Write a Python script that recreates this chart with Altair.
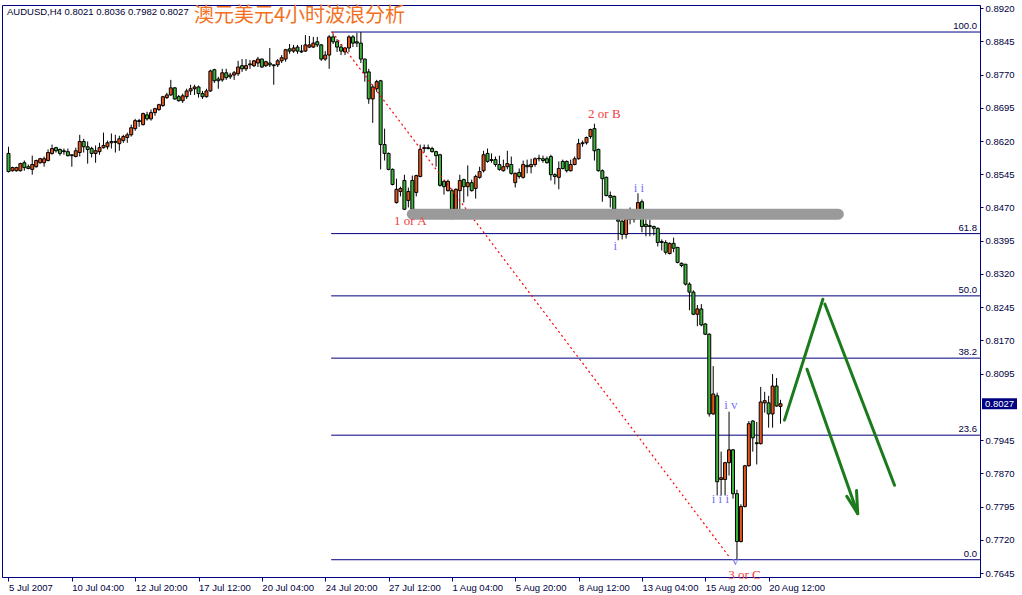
import altair as alt
import pandas as pd

# ---- AUDUSD H4 candles (bar 0 = 5 Jul 2007 12:00, weekends skipped) ----
opens = [
    0.8592, 0.8553, 0.8553, 0.8553, 0.8571, 0.8562, 0.8556, 0.8562, 0.8571, 0.8571,
    0.8576, 0.8592, 0.8605, 0.8601, 0.8598, 0.8596, 0.8589, 0.8585, 0.8594, 0.8619,
    0.8607, 0.8603, 0.8592, 0.8596, 0.8605, 0.8607, 0.8616, 0.8619, 0.8614, 0.8621,
    0.8628, 0.8634, 0.8648, 0.8664, 0.8657, 0.8679, 0.8670, 0.8684, 0.8691, 0.8700,
    0.8718, 0.8724, 0.8740, 0.8720, 0.8711, 0.8720, 0.8733, 0.8738, 0.8742, 0.8727,
    0.8720, 0.8733, 0.8781, 0.8760, 0.8758, 0.8774, 0.8765, 0.8769, 0.8772, 0.8790,
    0.8783, 0.8792, 0.8790, 0.8796, 0.8805, 0.8790, 0.8796, 0.8792, 0.8792, 0.8801,
    0.8805, 0.8828, 0.8823, 0.8832, 0.8823, 0.8823, 0.8832, 0.8832, 0.8844, 0.8837,
    0.8805, 0.8814, 0.8855, 0.8844, 0.8832, 0.8821, 0.8830, 0.8855, 0.8844, 0.8841,
    0.8805, 0.8776, 0.8715, 0.8738, 0.8756, 0.8612, 0.8592, 0.8556, 0.8481, 0.8506,
    0.8531, 0.8486, 0.8531, 0.8504, 0.8540, 0.8603, 0.8605, 0.8603, 0.8596, 0.8589,
    0.8529, 0.8508, 0.8508, 0.8466, 0.8508, 0.8533, 0.8517, 0.8526, 0.8513, 0.8538,
    0.8553, 0.8592, 0.8578, 0.8578, 0.8567, 0.8553, 0.8562, 0.8567, 0.8526, 0.8549,
    0.8538, 0.8565, 0.8562, 0.8567, 0.8580, 0.8580, 0.8580, 0.8585, 0.8544, 0.8538,
    0.8574, 0.8574, 0.8553, 0.8567, 0.8580, 0.8614, 0.8616, 0.8630, 0.8648, 0.8601,
    0.8553, 0.8538, 0.8497, 0.8495, 0.8443, 0.8439, 0.8409, 0.8445, 0.8443, 0.8445,
    0.8483, 0.8432, 0.8429, 0.8427, 0.8423, 0.8393, 0.8391, 0.8366, 0.8389, 0.8380,
    0.8344, 0.8342, 0.8297, 0.8279, 0.8229, 0.8241, 0.8207, 0.8184, 0.8004, 0.8045,
    0.7856, 0.7856, 0.7894, 0.7923, 0.7824, 0.7716, 0.7795, 0.7887, 0.7988, 0.7937,
    0.7937, 0.8029, 0.8029, 0.8004, 0.8067, 0.8021,
]
highs = [
    0.8607, 0.8562, 0.8562, 0.8571, 0.8576, 0.8567, 0.8587, 0.8578, 0.8582, 0.8585,
    0.8601, 0.8612, 0.8607, 0.8603, 0.8603, 0.8603, 0.8589, 0.8605, 0.8634, 0.8625,
    0.8619, 0.8607, 0.8610, 0.8616, 0.8639, 0.8621, 0.8637, 0.8634, 0.8632, 0.8634,
    0.8639, 0.8657, 0.8670, 0.8670, 0.8684, 0.8686, 0.8691, 0.8695, 0.8704, 0.8722,
    0.8729, 0.8758, 0.8742, 0.8724, 0.8727, 0.8738, 0.8747, 0.8747, 0.8745, 0.8733,
    0.8738, 0.8781, 0.8783, 0.8765, 0.8783, 0.8783, 0.8774, 0.8778, 0.8801, 0.8805,
    0.8805, 0.8803, 0.8803, 0.8810, 0.8806, 0.8801, 0.8830, 0.8792, 0.8805, 0.8814,
    0.8828, 0.8839, 0.8837, 0.8837, 0.8837, 0.8859, 0.8857, 0.8855, 0.8855, 0.8839,
    0.8823, 0.8859, 0.8862, 0.8850, 0.8839, 0.8832, 0.8859, 0.8859, 0.8864, 0.8866,
    0.8806, 0.8783, 0.8747, 0.8758, 0.8758, 0.8648, 0.8594, 0.8558, 0.8535, 0.8517,
    0.8544, 0.8515, 0.8542, 0.8544, 0.8612, 0.8612, 0.8612, 0.8607, 0.8598, 0.8591,
    0.8531, 0.8533, 0.8513, 0.8513, 0.8544, 0.8535, 0.8565, 0.8533, 0.8544, 0.8562,
    0.8598, 0.8603, 0.8592, 0.8585, 0.8587, 0.8578, 0.8598, 0.8585, 0.8549, 0.8558,
    0.8576, 0.8578, 0.8580, 0.8583, 0.8589, 0.8587, 0.8585, 0.8589, 0.8547, 0.8574,
    0.8578, 0.8576, 0.8578, 0.8585, 0.8625, 0.8621, 0.8630, 0.8648, 0.8659, 0.8603,
    0.8556, 0.8540, 0.8506, 0.8497, 0.8459, 0.8443, 0.8450, 0.8470, 0.8459, 0.8502,
    0.8488, 0.8443, 0.8443, 0.8429, 0.8425, 0.8398, 0.8396, 0.8391, 0.8402, 0.8380,
    0.8346, 0.8342, 0.8301, 0.8283, 0.8250, 0.8252, 0.8209, 0.8186, 0.8112, 0.8052,
    0.7919, 0.7896, 0.8009, 0.7925, 0.7833, 0.7800, 0.7889, 0.7988, 0.7990, 0.7986,
    0.8065, 0.8054, 0.8045, 0.8094, 0.8085, 0.8036,
]
lows = [
    0.8549, 0.8551, 0.8551, 0.8551, 0.8553, 0.8556, 0.8544, 0.8560, 0.8569, 0.8562,
    0.8574, 0.8589, 0.8594, 0.8587, 0.8589, 0.8585, 0.8562, 0.8583, 0.8585, 0.8594,
    0.8569, 0.8583, 0.8571, 0.8589, 0.8603, 0.8601, 0.8603, 0.8594, 0.8598, 0.8616,
    0.8616, 0.8630, 0.8643, 0.8652, 0.8655, 0.8666, 0.8666, 0.8677, 0.8688, 0.8697,
    0.8715, 0.8722, 0.8713, 0.8709, 0.8706, 0.8715, 0.8724, 0.8724, 0.8718, 0.8715,
    0.8718, 0.8731, 0.8751, 0.8738, 0.8754, 0.8758, 0.8760, 0.8758, 0.8767, 0.8776,
    0.8778, 0.8783, 0.8787, 0.8787, 0.8785, 0.8787, 0.8787, 0.8747, 0.8787, 0.8796,
    0.8799, 0.8817, 0.8819, 0.8817, 0.8819, 0.8821, 0.8830, 0.8830, 0.8832, 0.8801,
    0.8801, 0.8783, 0.8839, 0.8821, 0.8814, 0.8814, 0.8821, 0.8832, 0.8832, 0.8796,
    0.8754, 0.8704, 0.8661, 0.8731, 0.8556, 0.8576, 0.8554, 0.8520, 0.8479, 0.8495,
    0.8464, 0.8470, 0.8463, 0.8495, 0.8538, 0.8594, 0.8601, 0.8594, 0.8562, 0.8517,
    0.8499, 0.8506, 0.8443, 0.8464, 0.8466, 0.8481, 0.8495, 0.8506, 0.8490, 0.8535,
    0.8549, 0.8571, 0.8571, 0.8562, 0.8553, 0.8551, 0.8556, 0.8544, 0.8515, 0.8535,
    0.8535, 0.8547, 0.8547, 0.8562, 0.8574, 0.8571, 0.8569, 0.8531, 0.8522, 0.8511,
    0.8556, 0.8549, 0.8551, 0.8565, 0.8578, 0.8607, 0.8612, 0.8625, 0.8576, 0.8551,
    0.8483, 0.8495, 0.8470, 0.8457, 0.8396, 0.8398, 0.8400, 0.8432, 0.8436, 0.8443,
    0.8414, 0.8405, 0.8405, 0.8407, 0.8382, 0.8373, 0.8364, 0.8364, 0.8369, 0.8344,
    0.8335, 0.8294, 0.8238, 0.8227, 0.8202, 0.8202, 0.8182, 0.7998, 0.8002, 0.7820,
    0.7820, 0.7820, 0.7865, 0.7813, 0.7675, 0.7714, 0.7793, 0.7885, 0.7919, 0.7890,
    0.7935, 0.8007, 0.7973, 0.7973, 0.8020, 0.7982,
]
closes = [
    0.8551, 0.8560, 0.8560, 0.8569, 0.8560, 0.8558, 0.8567, 0.8576, 0.8580, 0.8580,
    0.8594, 0.8603, 0.8598, 0.8592, 0.8596, 0.8587, 0.8587, 0.8598, 0.8619, 0.8607,
    0.8601, 0.8592, 0.8598, 0.8605, 0.8610, 0.8616, 0.8619, 0.8617, 0.8625, 0.8630,
    0.8634, 0.8650, 0.8666, 0.8666, 0.8682, 0.8670, 0.8684, 0.8693, 0.8702, 0.8720,
    0.8724, 0.8740, 0.8715, 0.8711, 0.8722, 0.8733, 0.8738, 0.8742, 0.8727, 0.8720,
    0.8733, 0.8778, 0.8756, 0.8756, 0.8774, 0.8763, 0.8769, 0.8774, 0.8787, 0.8783,
    0.8790, 0.8794, 0.8801, 0.8805, 0.8787, 0.8799, 0.8792, 0.8790, 0.8801, 0.8808,
    0.8826, 0.8823, 0.8830, 0.8823, 0.8821, 0.8837, 0.8837, 0.8841, 0.8837, 0.8805,
    0.8814, 0.8855, 0.8844, 0.8832, 0.8823, 0.8830, 0.8855, 0.8841, 0.8841, 0.8805,
    0.8774, 0.8715, 0.8742, 0.8754, 0.8612, 0.8592, 0.8556, 0.8522, 0.8511, 0.8513,
    0.8466, 0.8506, 0.8466, 0.8542, 0.8601, 0.8605, 0.8603, 0.8596, 0.8587, 0.8520,
    0.8517, 0.8529, 0.8466, 0.8511, 0.8531, 0.8517, 0.8526, 0.8508, 0.8540, 0.8551,
    0.8589, 0.8574, 0.8576, 0.8567, 0.8556, 0.8562, 0.8569, 0.8547, 0.8547, 0.8540,
    0.8567, 0.8562, 0.8567, 0.8580, 0.8581, 0.8576, 0.8571, 0.8544, 0.8540, 0.8558,
    0.8558, 0.8553, 0.8567, 0.8580, 0.8614, 0.8616, 0.8628, 0.8646, 0.8598, 0.8553,
    0.8535, 0.8497, 0.8493, 0.8466, 0.8439, 0.8409, 0.8445, 0.8443, 0.8445, 0.8481,
    0.8427, 0.8427, 0.8427, 0.8423, 0.8391, 0.8391, 0.8369, 0.8389, 0.8378, 0.8346,
    0.8339, 0.8297, 0.8279, 0.8229, 0.8241, 0.8205, 0.8184, 0.8004, 0.8049, 0.7851,
    0.7860, 0.7894, 0.7923, 0.7824, 0.7716, 0.7795, 0.7887, 0.7982, 0.7950, 0.7939,
    0.8031, 0.8034, 0.8004, 0.8067, 0.8022, 0.8027,
]

# ---- axes ----
tick_bars = [0, 16, 32, 48, 64, 80, 96, 112, 128, 144, 160, 176, 192]
tick_text = ["5 Jul 2007", "10 Jul 04:00", "12 Jul 20:00", "17 Jul 12:00",
             "20 Jul 04:00", "24 Jul 20:00", "27 Jul 12:00", "1 Aug 04:00",
             "5 Aug 20:00", "8 Aug 12:00", "13 Aug 04:00", "15 Aug 20:00",
             "20 Aug 12:00"]
price_ticks = [0.8920, 0.8845, 0.8770, 0.8695, 0.8620, 0.8545, 0.8470, 0.8395,
               0.8320, 0.8245, 0.8170, 0.8095, 0.7945, 0.7870, 0.7795, 0.7720,
               0.7645]

# ---- Fibonacci retracement of the 24 Jul high -> 16 Aug low ----
fib_ratios = [100.0, 61.8, 50.0, 38.2, 23.6, 0.0]
swing_high = 0.8866
swing_low = 0.7675
fib_start_bar = 81.5

# red dotted trend line (high to low)
trend_bars = [81.75, 182.25]
trend_prices = [0.8866, 0.7679]

# grey support band
band_bars = [102.0, 209.6]
band_prices = [0.8455, 0.8455]

# Elliott wave labels
wave_text = ["1  or  A", "2  or  B", "3  or  C", "i", "i i", "i i i", "i v", "v"]
wave_bar = [101.5, 150.5, 185.9, 153.25, 159.25, 179.8, 182.45, 183.55]
wave_price = [0.8440, 0.8682, 0.7640, 0.8384, 0.8515, 0.7812, 0.8024, 0.7673]
wave_degree = ["major", "major", "major", "minor", "minor", "minor", "minor", "minor"]

# projected path arrows
path_id = ["up", "up", "long", "long", "short", "short", "head", "head", "head"]
path_step = [0, 1, 0, 1, 0, 1, 0, 1, 2]
path_bar = [196.0, 205.7, 206.2, 223.8, 201.7, 214.5, 211.75, 214.5, 214.2]
path_price = [0.7990, 0.8263, 0.8252, 0.7843, 0.8105, 0.7779, 0.7818, 0.7779, 0.7831]

symbol_line = "AUDUSD,H4  0.8021 0.8036 0.7982 0.8027"
chart_title = "澳元美元4小时波浪分析"

# ---- frames ----
candles = pd.DataFrame({"bar": list(range(len(opens))), "open": opens,
                        "high": highs, "low": lows, "close": closes})
candles["dir"] = ["up" if c >= o else "down" for o, c in zip(opens, closes)]

fib = pd.DataFrame({"ratio": fib_ratios})
fib["price"] = swing_low + (swing_high - swing_low) * fib["ratio"] / 100.0
fib["start"] = fib_start_bar
fib["label"] = [f"{r:.1f}" for r in fib_ratios]

trend = pd.DataFrame({"bar": trend_bars, "price": trend_prices})
band = pd.DataFrame({"bar": band_bars, "price": band_prices})
waves = pd.DataFrame({"bar": wave_bar, "price": wave_price,
                      "text": wave_text, "degree": wave_degree})
paths = pd.DataFrame({"id": path_id, "step": path_step,
                      "bar": path_bar, "price": path_price})
last = pd.DataFrame({"price": [closes[-1]], "text": [f"{closes[-1]:.4f}"]})

NAVY = "#000080"
AXIS_TXT = "#000040"
FONT = "Liberation Sans"

xs = alt.Scale(domain=[-0.375, 244.125], nice=False, zero=False)
ys = alt.Scale(domain=[0.7636, 0.8927], nice=False, zero=False)

label_expr = "[" + ",".join(f"'{t}'" for t in tick_text) + "][round(datum.value / 16)]"

x_axis = alt.Axis(values=tick_bars, labelExpr=label_expr, grid=False,
                  labelAlign="left", labelBaseline="top", labelPadding=1,
                  tickSize=4, tickColor=NAVY, domainColor=NAVY,
                  labelColor=AXIS_TXT, labelFont=FONT, labelFontSize=9.5,
                  labelOverlap=False, labelFlush=False, title=None)
y_axis = alt.Axis(orient="right", values=price_ticks, format=".4f", grid=False,
                  tickSize=3, tickColor=NAVY, domainColor=NAVY, labelPadding=2,
                  labelColor=AXIS_TXT, labelFont=FONT, labelFontSize=9.5,
                  labelOverlap=False, labelFlush=False, title=None)


# every layer carries the same axis definition so the merged axes stay intact
def px(field):
    return alt.X(field, type="quantitative", scale=xs, axis=x_axis, title=None)


def py(field):
    return alt.Y(field, type="quantitative", scale=ys, axis=y_axis, title=None)


fib_lines = alt.Chart(fib).mark_rule(color=NAVY, strokeWidth=1).encode(
    x=px("start"), x2=alt.value(978), y=py("price"),
)
fib_labels = alt.Chart(fib).mark_text(
    align="right", baseline="bottom", dy=-1, font=FONT, fontSize=9.5, color=AXIS_TXT
).encode(x=alt.value(975), y=py("price"), text="label:N")

wicks = alt.Chart(candles).mark_rule(color="black", strokeWidth=1).encode(
    x=px("bar"), y=py("low"), y2="high:Q"
)
bodies = alt.Chart(candles).mark_bar(width=3, stroke="black", strokeWidth=1).encode(
    x=px("bar"),
    y=py("open"), y2="close:Q",
    fill=alt.Fill("dir:N", scale=alt.Scale(domain=["up", "down"],
                                           range=["#e4561c", "#3cb43c"]),
                  legend=None),
)

trend_line = alt.Chart(trend).mark_line(
    color="#ff0000", strokeWidth=1.2, strokeDash=[2, 3]
).encode(x=px("bar"), y=py("price"))

band_line = alt.Chart(band).mark_line(
    color="#9a9a9a", strokeWidth=11, strokeCap="round"
).encode(x=px("bar"), y=py("price"))

arrows = alt.Chart(paths).mark_line(
    color="#1b7a1b", strokeWidth=3, strokeCap="round", strokeJoin="round"
).encode(
    x=px("bar"), y=py("price"),
    detail="id:N", order="step:Q",
)

wave_labels = alt.Chart(waves).mark_text(
    font="Liberation Serif", fontSize=13
).encode(
    x=px("bar"), y=py("price"), text="text:N",
    color=alt.Color("degree:N", scale=alt.Scale(domain=["major", "minor"],
                                                range=["#f24040", "#7676f2"]),
                    legend=None),
)

header = alt.Chart(pd.DataFrame({"t": [symbol_line]})).mark_text(
    align="left", baseline="middle", font=FONT, fontSize=9.5, color="#000033"
).encode(x=alt.value(5), y=alt.value(7), text="t:N")

title_txt = alt.Chart(pd.DataFrame({"t": [chart_title]})).mark_text(
    align="left", baseline="middle", font="Noto Sans CJK SC", fontSize=20,
    color="#f4701e"
).encode(x=alt.value(192), y=alt.value(11), text="t:N")

price_box = alt.Chart(last).mark_tick(
    orient="horizontal", size=35, thickness=11, color=NAVY, opacity=1
).encode(x=alt.value(997.5), y=py("price"))
price_txt = alt.Chart(last).mark_text(
    font=FONT, fontSize=9.5, color="white", align="center", baseline="middle"
).encode(x=alt.value(997.5), y=py("price"), text="text:N")

chart = alt.layer(
    fib_lines, fib_labels, wicks, bodies, trend_line, band_line, arrows,
    wave_labels, header, title_txt, price_box, price_txt,
).properties(
    width=978, height=572, autosize="none",
    padding={"left": 2, "top": 5, "right": 42, "bottom": 18},
    background="white",
).configure_view(stroke=NAVY, strokeWidth=1).configure_axis(labelOverlap=False)

chart.save("out.html", embed_options={"renderer": "svg", "actions": False})
